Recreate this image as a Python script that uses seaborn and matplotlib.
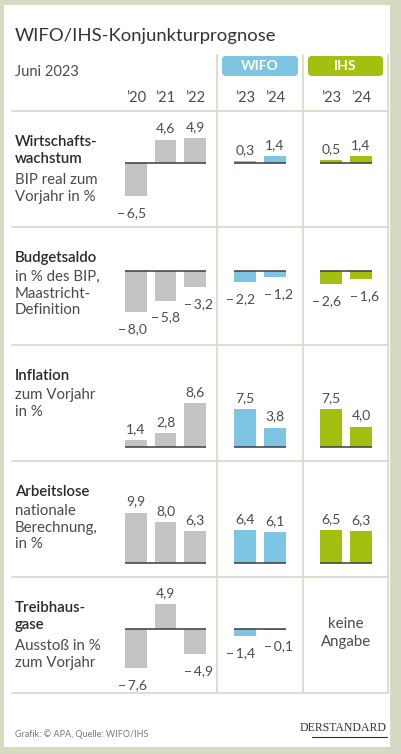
import numpy as np
import pandas as pd
import seaborn as sns
import matplotlib.pyplot as plt
from matplotlib.patches import Rectangle, FancyBboxPatch

# ---- data ----
hist_years = ["’20", "’21", "’22"]
fc_years = ["’23", "’24"]

growth_hist = [-6.5, 4.6, 4.9]
growth_wifo = [0.3, 1.4]
growth_ihs = [0.5, 1.4]

budget_hist = [-8.0, -5.8, -3.2]
budget_wifo = [-2.2, -1.2]
budget_ihs = [-2.6, -1.6]

infl_hist = [1.4, 2.8, 8.6]
infl_wifo = [7.5, 3.8]
infl_ihs = [7.5, 4.0]

unemp_hist = [9.9, 8.0, 6.3]
unemp_wifo = [6.4, 6.1]
unemp_ihs = [6.5, 6.3]

ghg_hist = [-7.6, 4.9, -4.9]
ghg_wifo = [-1.4, -0.1]
ghg_ihs = None  # keine Angabe

row_titles = ["Wirtschafts-\nwachstum", "Budgetsaldo", "Inflation", "Arbeitslose", "Treibhaus-\ngase"]
row_subs = ["BIP real zum\nVorjahr in %", "in % des BIP,\nMaastricht-\nDefinition",
            "zum Vorjahr\nin %", "nationale\nBerechnung,\nin %", "Ausstoß in %\nzum Vorjahr"]
rows = [
    (growth_hist, growth_wifo, growth_ihs),
    (budget_hist, budget_wifo, budget_ihs),
    (infl_hist, infl_wifo, infl_ihs),
    (unemp_hist, unemp_wifo, unemp_ihs),
    (ghg_hist, ghg_wifo, ghg_ihs),
]

# ---- style ----
W, H = 401, 754
GRAY, BLUE, GREEN = "#c4c4c4", "#7ec4e3", "#a3bf0f"
LINE = "#d9dccb"
TXT = "#2a2a2a"
SUB = "#4a4a4a"

sns.set_theme(style="white")
plt.rcParams["font.family"] = ["Lato", "DejaVu Sans"]

fig = plt.figure(figsize=(W / 100, H / 100), dpi=100)
fig.patch.set_facecolor("#d7dac3")

bg = fig.add_axes([0, 0, 1, 1])
bg.set_xlim(0, W)
bg.set_ylim(H, 0)
bg.axis("off")
bg.add_patch(Rectangle((4, 5), 386, 742, facecolor="white", edgecolor="none"))

bg.text(15, 36, "WIFO/IHS-Konjunkturprognose", fontsize=13.3, color="#333333",
        va="center", ha="left")
bg.text(15, 72, "Juni 2023", fontsize=10.5, color=SUB, va="center")

for x0, x1, col, lab in [(222, 298, BLUE, "WIFO"), (308, 383, GREEN, "IHS")]:
    bg.add_patch(FancyBboxPatch((x0, 56), x1 - x0, 20, boxstyle="round,pad=0,rounding_size=4",
                                facecolor=col, edgecolor="none"))
    bg.text((x0 + x1) / 2, 66.5, lab, color="white", fontsize=10, fontweight="bold",
            ha="center", va="center")

# grid lines
row_edges = [111, 227, 345, 461, 577, 693]
for y in row_edges:
    bg.plot([12, 388], [y, y], color=LINE, lw=1.3)
for x in [217, 303, 388]:
    bg.plot([x, x], [55, 693], color=LINE, lw=1.3)

zeros = [163, 271, 447, 563, 629]
PX = 5.1  # pixels per percentage point

groups = [
    (121.25, 29.5, GRAY, hist_years),
    (230.0, 30.0, BLUE, fc_years),
    (316.0, 30.0, GREEN, fc_years),
]


def fmt(v):
    s = f"{abs(v):.1f}".replace(".", ",")
    return ("\u2212\u2009" + s) if v < 0 else s


for r, (vals3, title, sub) in enumerate(zip(rows, row_titles, row_subs)):
    top, bot, y0 = row_edges[r], row_edges[r + 1], zeros[r]
    nt = title.count("\n") + 1
    ty = top + 24
    bg.text(15, ty, title, fontsize=10.8, fontweight="semibold", color=TXT, va="top",
            ha="left", linespacing=1.25)
    bg.text(15, ty + 19 * nt, sub, fontsize=10.8, color=SUB, va="top", ha="left",
            linespacing=1.25)

    for g, (left, step, col, cats) in enumerate(groups):
        vals = vals3[g]
        n = len(cats)
        ax = fig.add_axes([left / W, 1 - bot / H, n * step / W, (bot - top) / H])
        ax.patch.set_alpha(0)
        if vals is None:
            ax.axis("off")
            ax.text(0.5, (bot - 633) / (bot - top), "keine\nAngabe", transform=ax.transAxes,
                    ha="center", va="center", fontsize=10.8, color=SUB, linespacing=1.3)
            continue
        df = pd.DataFrame({"Jahr": cats, "Wert": vals})
        sns.barplot(data=df, x="Jahr", y="Wert", color=col, width=0.745, saturation=1,
                    edgecolor="none", ax=ax)
        ax.set_xlim(-0.5, n - 0.5)
        ax.set_ylim(-(bot - y0) / PX, (y0 - top) / PX)
        ax.plot([-0.3725, n - 1 + 0.3725], [0, 0], color="#3c3c3c", lw=1.1, solid_capstyle="butt")
        for i, v in enumerate(vals):
            dx = 0
            if v < 0:
                # negative labels are pushed outwards so neighbours don't collide
                dx = -4 if i == 0 else (4 if i == n - 1 else 0)
            off = 11 if v >= 0 else -17
            ax.annotate(fmt(v), (i, v), xytext=(dx, off), textcoords="offset pixels",
                        ha="center", va="center", fontsize=10, color=SUB,
                        annotation_clip=False)
        ax.set_xlabel("")
        ax.set_ylabel("")
        ax.set_yticks([])
        for s in ax.spines.values():
            s.set_visible(False)
        if r == 0:
            ax.tick_params(axis="x", top=True, labeltop=True, bottom=False, labelbottom=False,
                           length=0, pad=4, labelsize=10.5, labelcolor=SUB)
        else:
            ax.set_xticks([])

bg.text(15, 734, "Grafik: © APA, Quelle: WIFO/IHS", fontsize=6.5, color="#777777", va="center")
bg.text(387, 731, "DERSTANDARD", family="Liberation Serif", fontsize=8.5, color="#333333",
        ha="right", va="baseline")
bg.plot([312, 387], [736.5, 736.5], color="#333333", lw=0.8)

fig.savefig("out.png", dpi=100, facecolor=fig.get_facecolor())
